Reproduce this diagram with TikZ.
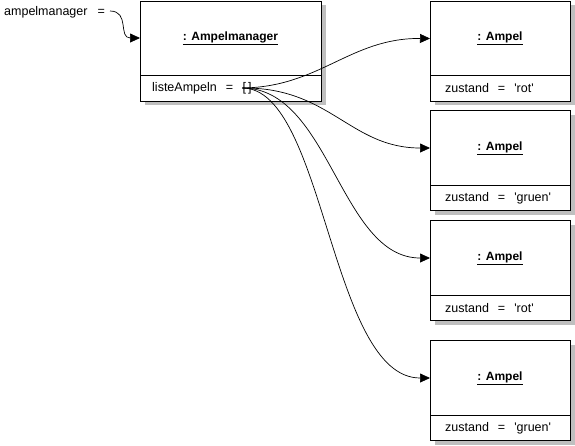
\documentclass[tikz,border=0pt]{standalone}
\usepackage{fontspec}
\setmainfont{Liberation Sans}
\usetikzlibrary{arrows.meta,shadows,calc,positioning}
\begin{document}
\begin{tikzpicture}[x=1pt,y=-1pt, font=\fontsize{12.5}{14}\selectfont,
  objbox/.style={draw, line width=1pt, fill=white, inner sep=0pt, anchor=north west,
    minimum height=100pt,
    drop shadow={shadow xshift=4pt, shadow yshift=-4pt, fill=black!25, opacity=1}},
  objtitle/.style={font=\fontsize{12}{14}\selectfont\bfseries, inner sep=1pt},
  attr/.style={anchor=west, inner sep=0pt},
  divider/.style={line width=1pt},
  link/.style={line width=0.7pt, -{Triangle[length=10pt,width=9pt]}}]
\useasboundingbox (0,0) rectangle (575,445);

% variable
\node[attr] (var) at (4,12) {ampelmanager\hspace*{10pt}=};
\coordinate (vs) at (110,11);

% Ampelmanager object
\node[objbox, minimum width=181pt] (m) at (140,0.5) {};
\draw[divider] ($(m.north west)+(0,75)$) -- ($(m.north east)+(0,75)$);
\node[objtitle] (tm) at (230.5,38) {\underline{: Ampelmanager}};
\node[attr] (la) at (152,88) {listeAmpeln\hspace*{9pt}=\hspace*{9pt}};
\node[attr, anchor=west] (br) at (la.east) {[\,]};

% Ampel objects
\foreach \i/\tp/\val in {1/0.5/rot,2/110/gruen,3/220/rot,4/340/gruen}{
  \node[objbox, minimum width=140pt] (a\i) at (430,\tp) {};
  \draw[divider] ($(a\i.north west)+(0,75)$) -- ($(a\i.north east)+(0,75)$);
  \node[objtitle] (t\i) at (500,\tp+38) {\underline{: Ampel}};
  \node[attr] (z\i) at (445,\tp+88) {zustand\hspace*{9pt}=\hspace*{9pt}\textquotesingle\val\textquotesingle};
}

% connectors
\draw[link] (vs) .. controls (130,11) and (118,38) .. (tm -| m.west);
\draw[link] (br.west) .. controls (320,87) and (350,38) .. (t1 -| a1.west);
\draw[link] (br.west) .. controls (330,87) and (350,148) .. (t2 -| a2.west);
\draw[link] (br.west) .. controls (330,88) and (340,258) .. (t3 -| a3.west);
\draw[link] (br.west) .. controls (325,88) and (330,378) .. (t4 -| a4.west);
\end{tikzpicture}
\end{document}
